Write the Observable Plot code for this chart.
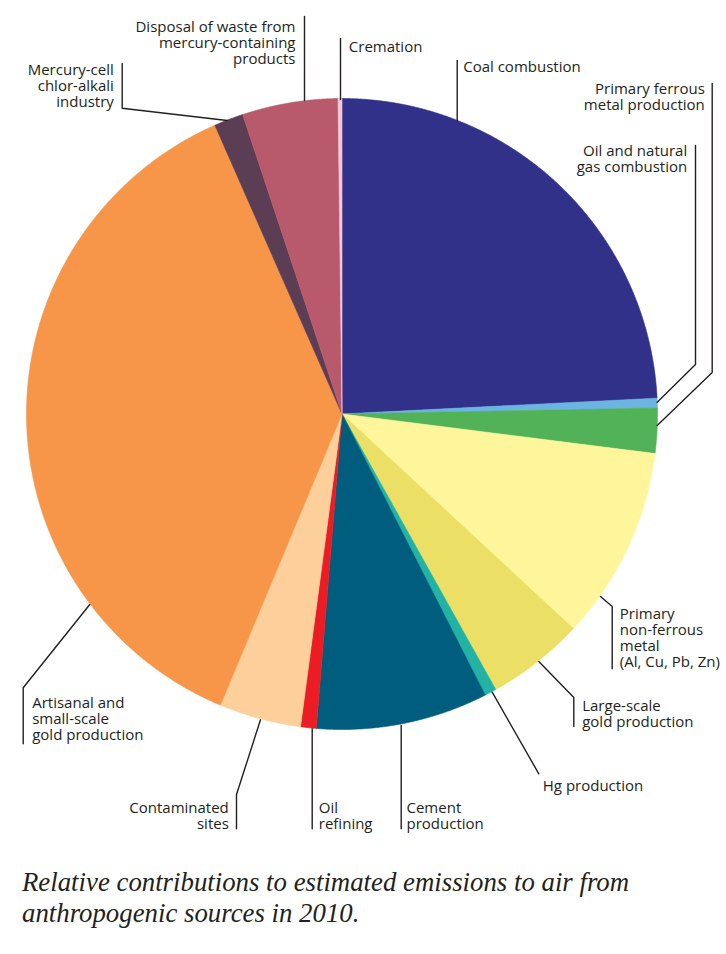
<!DOCTYPE html>
<html><head><meta charset="utf-8">
<script src="https://cdn.jsdelivr.net/npm/d3@7"></script>
<script src="https://cdn.jsdelivr.net/npm/@observablehq/plot@0.6"></script>
<style>
body{margin:0;background:#fff;}
#chart svg{display:block;}
#caption{font-family:"Liberation Serif","DejaVu Serif",serif;font-style:italic;font-size:26.8px;line-height:31px;color:#231f20;margin:7px 0 0 22px;}
</style></head><body>
<div id="chart"></div>
<div id="caption">Relative contributions to estimated emissions to air from<br>anthropogenic sources in 2010.</div>
<script>
// ---- data (clockwise from 12 o'clock), percent of total ----
const categories = [
  "Coal combustion",
  "Oil and natural gas combustion",
  "Primary ferrous metal production",
  "Primary non-ferrous metal (Al, Cu, Pb, Zn)",
  "Large-scale gold production",
  "Hg production",
  "Cement production",
  "Oil refining",
  "Contaminated sites",
  "Artisanal and small-scale gold production",
  "Mercury-cell chlor-alkali industry",
  "Disposal of waste from mercury-containing products",
  "Cremation"
];
const shares = [24.2, 0.5, 2.3, 9.9, 5.0, 0.6, 8.8, 0.8, 4.2, 37.1, 1.5, 4.9, 0.2];
const colors = ["#32318a", "#6cb4e2", "#52b257", "#fff59a", "#ebdf66", "#22b3a4", "#005d7e", "#ec1c24", "#fdd09b", "#f79649", "#5b3d54", "#b85a6b", "#f5c6d8"];
const labelTexts = [
  "Coal combustion",
  "Oil and natural\ngas combustion",
  "Primary ferrous\nmetal production",
  "Primary\nnon-ferrous\nmetal\n(Al, Cu, Pb, Zn)",
  "Large-scale\ngold production",
  "Hg production",
  "Cement\nproduction",
  "Oil\nrefining",
  "Contaminated\nsites",
  "Artisanal and\nsmall-scale\ngold production",
  "Mercury-cell\nchlor-alkali\nindustry",
  "Disposal of waste from\nmercury-containing\nproducts",
  "Cremation"
];

// ---- layout (annotation placement, in plot units) ----
const W = 726, H = 860;
const cx = 341.5, cy = 413.5, R = 315.5;
const labelLayout = [
  {x: 462.7, y: 66.5, anchor: "start", path: [[456.7, 60], [456.7, 120]]},
  {x: 686.7, y: 158, anchor: "end", path: [[695, 145], [695, 364], [656.7, 401.7]]},
  {x: 704.3, y: 96, anchor: "end", path: [[711.7, 83], [711.7, 372], [656.7, 425]]},
  {x: 619.3, y: 637.2, anchor: "start", path: [[600, 596], [611.7, 606], [611.7, 668.3]]},
  {x: 581.7, y: 713, anchor: "start", path: [[538.3, 661], [573.3, 697], [573.3, 726]]},
  {x: 542.3, y: 785.5, anchor: "start", path: [[491.7, 691.7], [538.3, 773.3]]},
  {x: 406, y: 815.2, anchor: "start", path: [[400.7, 725], [400.7, 828.3]]},
  {x: 318.3, y: 815.2, anchor: "start", path: [[311.7, 728.3], [311.7, 828.3]]},
  {x: 228.3, y: 815.2, anchor: "end", path: [[260, 719.3], [236, 794], [236, 828.3]]},
  {x: 31.7, y: 718.8, anchor: "start", path: [[89.3, 604], [22.7, 687.3], [22.7, 743.3]]},
  {x: 113.3, y: 85.5, anchor: "end", path: [[121.7, 63], [121.7, 107.7], [226.7, 120]]},
  {x: 295, y: 42, anchor: "end", path: [[304, 16], [304, 100]]},
  {x: 348.3, y: 46.2, anchor: "start", path: [[340, 38], [340, 99]]}
];

// ---- build slice outlines from the shares ----
const total = d3.sum(shares);
let acc = 0;
const slicePts = [];
categories.forEach((c, i) => {
  const a0 = acc / total * 2 * Math.PI;
  acc += shares[i];
  const a1 = acc / total * 2 * Math.PI;
  const n = Math.max(2, Math.ceil((a1 - a0) / (Math.PI / 720)));
  slicePts.push({cat: c, x: cx, y: cy});
  for (let k = 0; k <= n; k++) {
    const a = a0 + (a1 - a0) * k / n;
    slicePts.push({cat: c, x: cx + R * Math.sin(a), y: cy - R * Math.cos(a)});
  }
  slicePts.push({cat: c, x: cx, y: cy});
});

const leaderPts = [];
labelLayout.forEach((l, i) => l.path.forEach(([x, y]) => leaderPts.push({cat: categories[i], x, y})));
const labels = labelLayout.map((l, i) => ({x: l.x, y: l.y, anchor: l.anchor, text: labelTexts[i]}));

const textOpts = {x: "x", y: "y", text: "text", lineAnchor: "middle", lineHeight: 1.07, fontSize: 15, fill: "#231f20"};

const chart = Plot.plot({
  width: W, height: H, margin: 0,
  x: {domain: [0, W], range: [0, W], axis: null},
  y: {domain: [0, H], range: [0, H], axis: null},
  color: {domain: categories, range: colors},
  style: {fontFamily: "'Open Sans', sans-serif", fontSize: "15px", color: "#231f20", background: "white"},
  marks: [
    Plot.line(slicePts, {x: "x", y: "y", z: "cat", fill: "cat", stroke: "cat", strokeWidth: 0.6, curve: "linear"}),
    Plot.line(leaderPts, {x: "x", y: "y", z: "cat", stroke: "#231f20", strokeWidth: 1.4}),
    Plot.text(labels.filter(d => d.anchor === "start"), {...textOpts, textAnchor: "start"}),
    Plot.text(labels.filter(d => d.anchor === "end"), {...textOpts, textAnchor: "end"})
  ]
});
document.getElementById("chart").appendChild(chart);
</script></body></html>
